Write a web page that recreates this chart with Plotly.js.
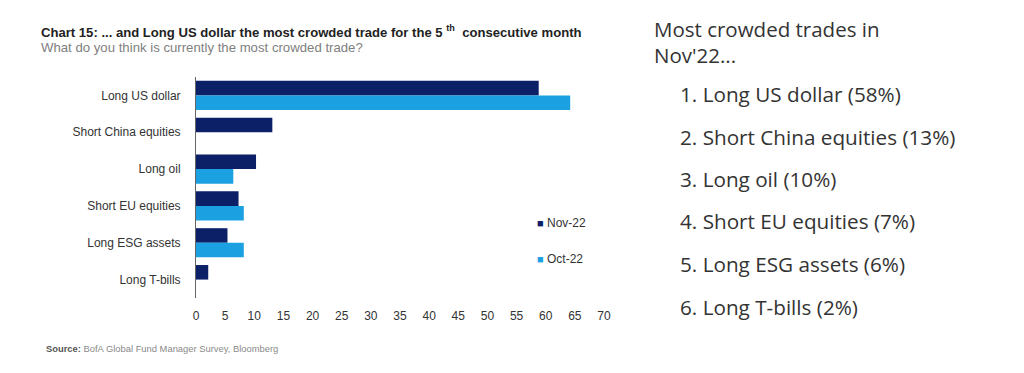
<!DOCTYPE html>
<html>
<head>
<meta charset="utf-8">
<script src="https://cdn.plot.ly/plotly-3.0.1.min.js"></script>
<style>
html,body{margin:0;padding:0;background:#fff;}
#chart{width:1024px;height:373px;}
</style>
</head>
<body>
<div id="chart"></div>
<script>
const categories = ["Long US dollar", "Short China equities", "Long oil", "Short EU equities", "Long ESG assets", "Long T-bills"];
const nov22 = [58.8, 13.1, 10.3, 7.3, 5.4, 2.1];
const oct22 = [64.2, null, 6.4, 8.2, 8.2, null];
const seriesNames = ["Nov-22", "Oct-22"];
const xTicks = [0, 5, 10, 15, 20, 25, 30, 35, 40, 45, 50, 55, 60, 65, 70];
const rankLabels = ["Long US dollar", "Short China equities", "Long oil", "Short EU equities", "Long ESG assets", "Long T-bills"];
const rankValues = [58, 13, 10, 7, 6, 2];

const navy = "#0c2068";
const cyan = "#1ba1e2";

const L = 196, R = 604, T = 77, B = 298.5;
const PW = R - L, PH = B - T;
const px = v => (v - L) / PW;
const py = v => (B - v) / PH;

const traces = [
  {type: "bar", orientation: "h", name: seriesNames[0], y: categories, x: nov22,
   marker: {color: navy}, showlegend: false, hoverinfo: "x+y"},
  {type: "bar", orientation: "h", name: seriesNames[1], y: categories, x: oct22,
   marker: {color: cyan}, showlegend: false, hoverinfo: "x+y"}
];

const ann = [];
ann.push({xref: "paper", yref: "paper", x: px(39), y: py(31), xanchor: "left", yanchor: "middle",
  showarrow: false, align: "left",
  text: "<b>Chart 15: ... and Long US dollar the most crowded trade for the 5 <sup>th</sup>&nbsp;&nbsp;consecutive month</b>",
  font: {family: "Liberation Sans, Arial, sans-serif", size: 13.1, color: "#222"}});
ann.push({xref: "paper", yref: "paper", x: px(39), y: py(47), xanchor: "left", yanchor: "middle",
  showarrow: false, align: "left",
  text: "What do you think is currently the most crowded trade?",
  font: {family: "Liberation Sans, Arial, sans-serif", size: 13.2, color: "#808080"}});
ann.push({xref: "paper", yref: "paper", x: px(44), y: py(349), xanchor: "left", yanchor: "middle",
  showarrow: false, align: "left",
  text: "<b>Source:</b> <span style='color:#8a8a8a'>BofA Global Fund Manager Survey, Bloomberg</span>",
  font: {family: "Liberation Sans, Arial, sans-serif", size: 9.4, color: "#555"}});
// legend
const legendY = [223, 259];
const legendCols = [navy, cyan];
for (let i = 0; i < 2; i++) {
  ann.push({xref: "paper", yref: "paper", x: px(535), y: py(legendY[i]), xanchor: "left", yanchor: "middle",
    showarrow: false, align: "left",
    text: "<span style='color:" + legendCols[i] + ";font-size:11px'>■</span> " + seriesNames[i],
    font: {family: "Liberation Sans, Arial, sans-serif", size: 12, color: "#333"}});
}
// right-side text
const headLines = ["Most crowded trades in", "Nov'22..."];
const headY = [28.5, 55];
for (let i = 0; i < headLines.length; i++) {
  ann.push({xref: "paper", yref: "paper", x: px(652), y: py(headY[i]), xanchor: "left", yanchor: "middle",
    showarrow: false, align: "left", text: headLines[i],
    font: {family: "Open Sans, sans-serif", size: 20.5, color: "#333"}});
}
const rowY = [94.3, 136.7, 179, 221.3, 264.5, 307.7];
for (let i = 0; i < rankLabels.length; i++) {
  ann.push({xref: "paper", yref: "paper", x: px(678), y: py(rowY[i]), xanchor: "left", yanchor: "middle",
    showarrow: false, align: "left",
    text: (i+1) + ". " + rankLabels[i] + " (" + rankValues[i] + "%)",
    font: {family: "Open Sans, sans-serif", size: 20.7, color: "#333"}});
}

const layout = {
  width: 1024, height: 373,
  margin: {l: L, r: 1024 - R, t: T, b: 373 - B, pad: 0},
  paper_bgcolor: "#fff", plot_bgcolor: "#fff",
  barmode: "group", bargap: 0.21, bargroupgap: 0,
  showlegend: false,
  font: {family: "Liberation Sans, Arial, sans-serif", size: 12, color: "#333"},
  xaxis: {range: [0, 70], tickvals: xTicks, ticktext: xTicks.map(String), showgrid: false, zeroline: false,
    showline: false, ticks: "", ticklabelstandoff: 9,
    tickfont: {family: "Liberation Sans, Arial, sans-serif", size: 12, color: "#333"}},
  yaxis: {autorange: "reversed", showgrid: false, zeroline: false, showline: true, linecolor: "#666", linewidth: 1,
    ticks: "", ticklabelstandoff: 12,
    tickfont: {family: "Liberation Sans, Arial, sans-serif", size: 12, color: "#333"}},
  annotations: ann
};

Plotly.newPlot("chart", traces, layout, {displayModeBar: false, staticPlot: true});
</script>
</body>
</html>
